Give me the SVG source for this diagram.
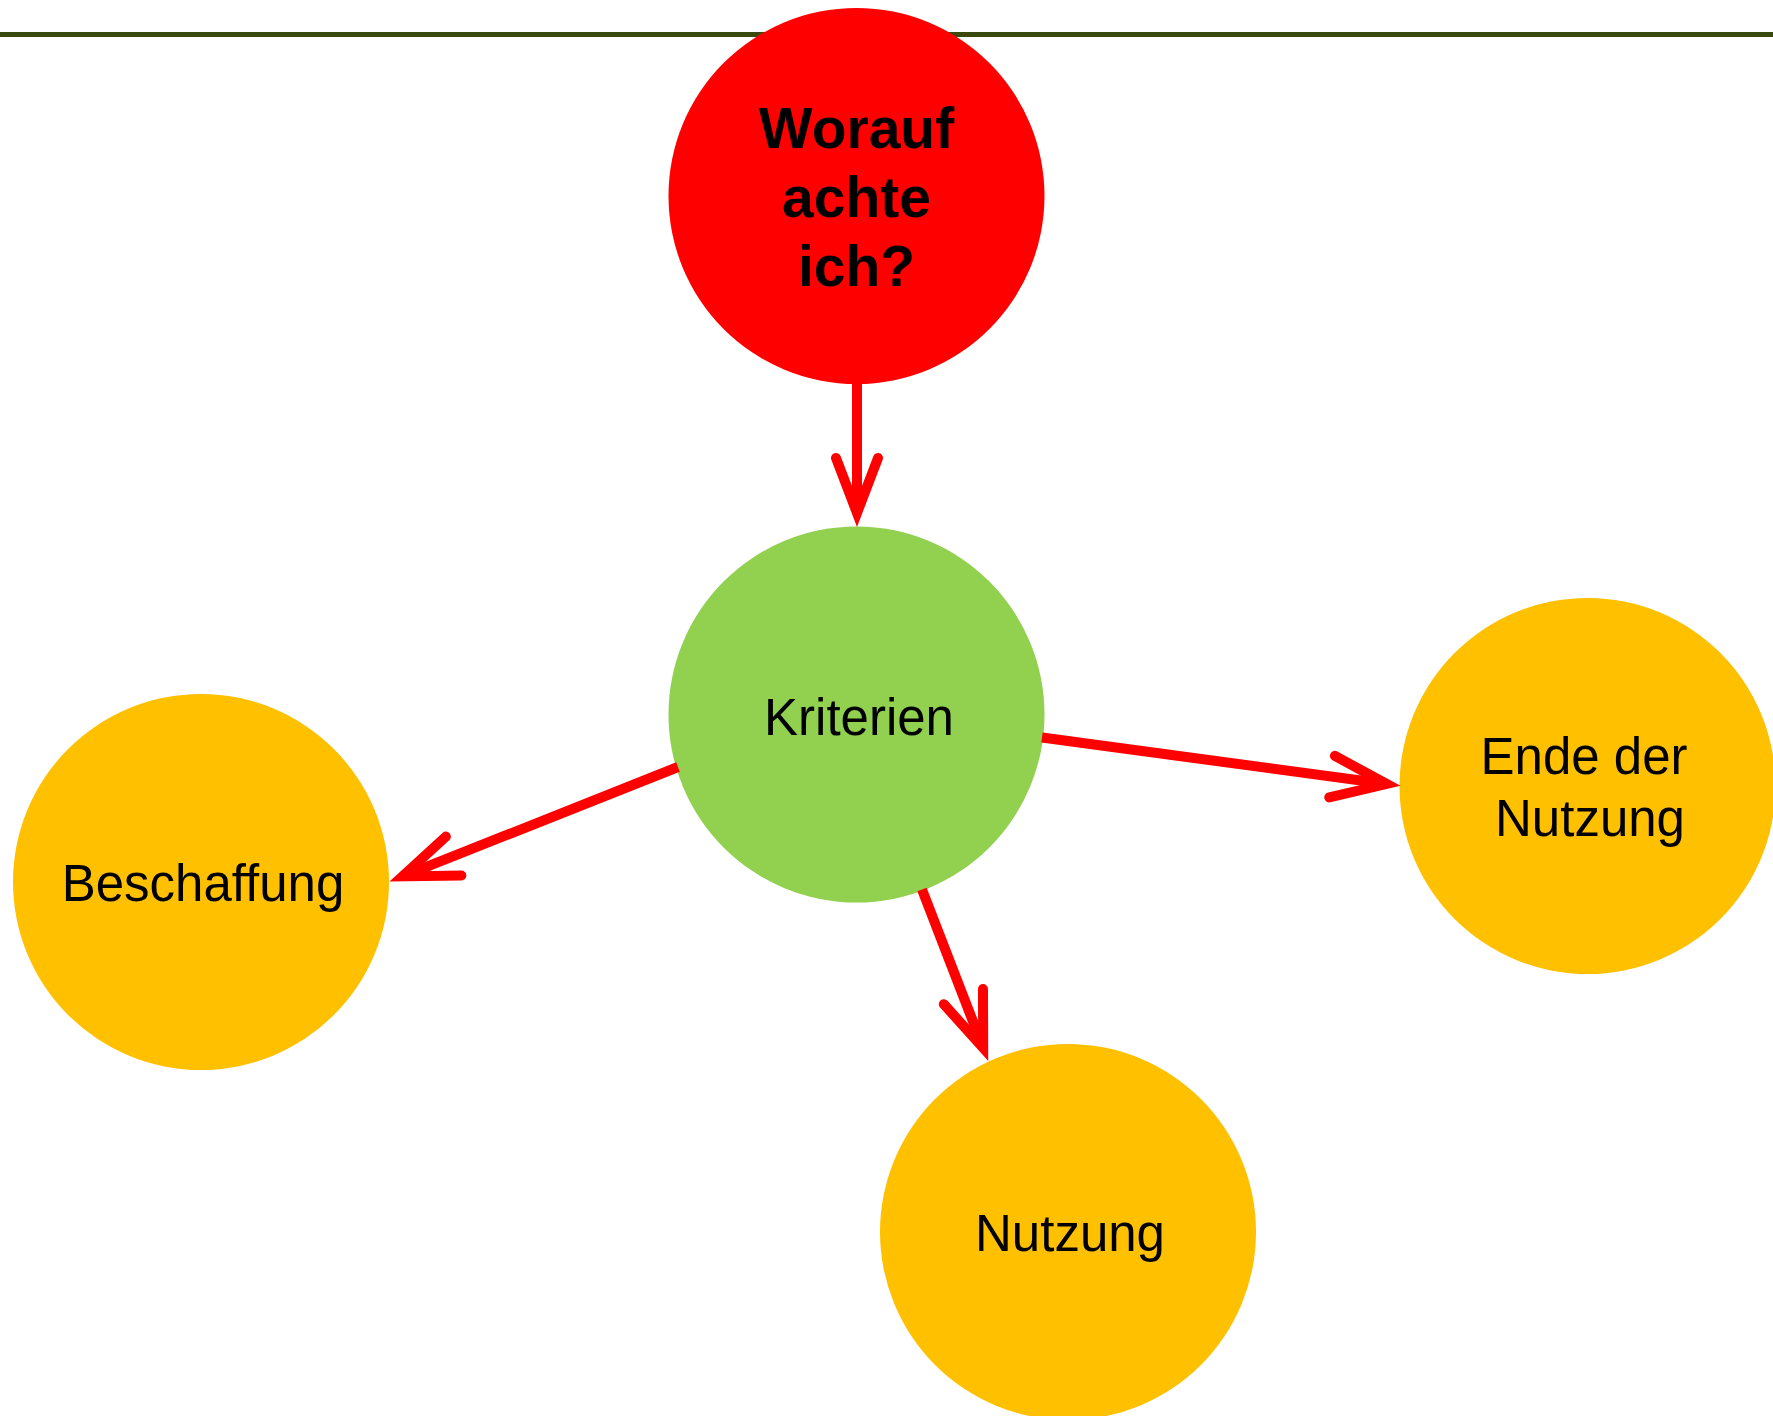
<svg xmlns="http://www.w3.org/2000/svg" width="1773" height="1416" viewBox="0 0 1773 1416">
  <style>
    .lbl { font-family: "Liberation Sans", Arial, sans-serif; font-size: 51px; fill: #000; text-anchor: middle; }
    .bold { font-weight: bold; font-size: 57px; }
    .conn { stroke: #FF0000; stroke-width: 10; fill: none; marker-end: url(#arrow); }
  </style>
  <defs>
    <marker id="arrow" markerUnits="userSpaceOnUse" orient="auto" refX="0" refY="0" markerWidth="100" markerHeight="100" overflow="visible">
      <path d="M-55,-21 L0,0 L-55,21" fill="none" stroke="#FF0000" stroke-width="10" stroke-linecap="round" stroke-linejoin="miter" stroke-miterlimit="10"/>
    </marker>
  </defs>
  <rect width="1773" height="1416" fill="#FFFFFF"/>
  <line x1="0" y1="34.5" x2="1773" y2="34.5" stroke="#3A4A0E" stroke-width="5"/>

  <g id="node-worauf">
    <circle cx="856.5" cy="196" r="188" fill="#FF0000"/>
    <text class="lbl bold" x="856.5" y="148">Worauf</text>
    <text class="lbl bold" x="856.5" y="217">achte</text>
    <text class="lbl bold" x="856.5" y="286">ich?</text>
  </g>
  <g id="node-kriterien">
    <circle cx="856.5" cy="714.5" r="188" fill="#92D050"/>
    <text class="lbl" x="859" y="735">Kriterien</text>
  </g>
  <g id="node-beschaffung">
    <circle cx="201" cy="882" r="188" fill="#FFC000"/>
    <text class="lbl" x="203" y="901">Beschaffung</text>
  </g>
  <g id="node-ende">
    <circle cx="1587.5" cy="786" r="188" fill="#FFC000"/>
    <text class="lbl" x="1584" y="774">Ende der</text>
    <text class="lbl" x="1590" y="836">Nutzung</text>
  </g>
  <g id="node-nutzung">
    <circle cx="1068" cy="1232" r="188" fill="#FFC000"/>
    <text class="lbl" x="1070" y="1251">Nutzung</text>
  </g>

  <g id="connectors">
    <line class="conn" x1="857" y1="384" x2="857" y2="513"/>
    <line class="conn" x1="678" y1="767" x2="402.5" y2="876.4"/>
    <line class="conn" x1="1042" y1="737.5" x2="1386.6" y2="784"/>
    <line class="conn" x1="922" y1="889.5" x2="983.2" y2="1047.9"/>
  </g>
</svg>
